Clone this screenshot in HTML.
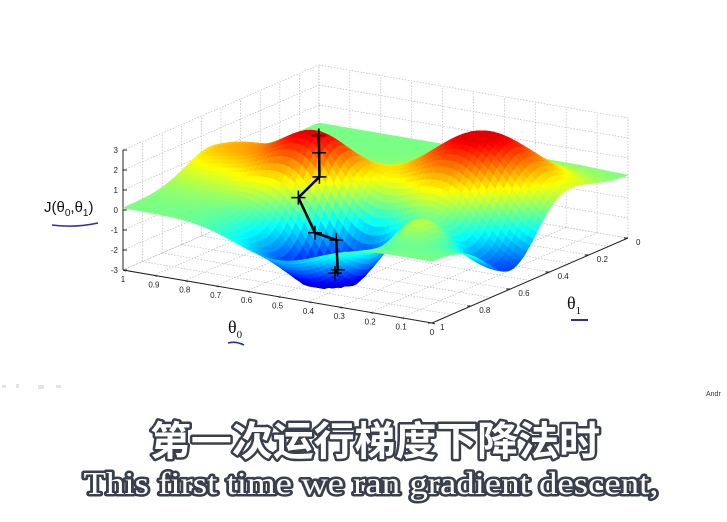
<!DOCTYPE html>
<html><head><meta charset="utf-8">
<style>
html,body{margin:0;padding:0;background:#fff;}
svg{display:block;}
.sub{paint-order:stroke;stroke:#3a3f4e;stroke-width:5px;stroke-linejoin:round;fill:#fff;}
</style></head>
<body>
<svg id="chart" width="727" height="522" viewBox="0 0 727 522" xmlns="http://www.w3.org/2000/svg">
  <g id="grid"></g>
  <g id="surface"></g>
  <g id="path"></g>
  <g id="ticks" font-family="Liberation Sans, sans-serif" font-size="8" fill="#222"></g>
  <text x="44" y="212" font-family="Liberation Sans, sans-serif" font-size="15" fill="#111">J(θ<tspan font-size="10" dy="4">0</tspan><tspan dy="-4">,θ</tspan><tspan font-size="10" dy="4">1</tspan><tspan dy="-4">)</tspan></text>
  <path d="M52 225 Q75 228 98 223" stroke="#2230b0" stroke-width="1.6" fill="none"/>
  <text x="228" y="333" font-family="Liberation Serif, serif" font-size="18" fill="#111">θ<tspan font-size="11" dy="5">0</tspan></text>
  <path d="M228 343 Q236 341 244 345" stroke="#2230b0" stroke-width="1.6" fill="none"/>
  <text x="567" y="309" font-family="Liberation Serif, serif" font-size="18" fill="#111">θ<tspan font-size="11" dy="5">1</tspan></text>
  <path d="M571 320 L588 320" stroke="#2230b0" stroke-width="2" fill="none"/>
  <text x="706" y="396" font-family="Liberation Sans, sans-serif" font-size="7" fill="#333">Andr</text>
  <g fill="#e4e4e4"><rect x="2" y="385" width="4" height="3"/><rect x="16" y="384" width="3" height="4"/><rect x="38" y="385" width="6" height="4"/><rect x="56" y="385" width="5" height="3"/></g>
  <text class="sub" x="375" y="455" text-anchor="middle" font-family="Liberation Sans, 'Noto Sans CJK SC', sans-serif" font-size="40" font-weight="bold" textLength="450" lengthAdjust="spacingAndGlyphs">第一次运行梯度下降法时</text>
  <text class="sub" x="371" y="494" text-anchor="middle" font-family="Liberation Serif, serif" font-size="32" textLength="575" lengthAdjust="spacingAndGlyphs">This first time we ran gradient descent,</text>
</svg>
<script>
// surface bumps (theta0, theta1, height, width)
const bumpT0 = [0.64, 0.23, 0.45, 0.03, 0.92, 0.55, 0.20];
const bumpT1 = [0.59, 0.38, 0.78, 0.58, 0.55, 0.95, 0.75];
const bumpH  = [3.0, 3.3, -3.6, -2.6, 1.4, -0.8, 1.2];
const bumpW  = [0.11, 0.15, 0.12, 0.13, 0.13, 0.12, 0.07];
const baseZ = 0.1;
// descent path points
const pathT0 = [0.62, 0.60, 0.58, 0.61, 0.55, 0.50, 0.47, 0.46];
const pathT1 = [0.60, 0.63, 0.66, 0.72, 0.73, 0.70, 0.74, 0.77];
const zTicks = [-3,-2,-1,0,1,2,3];
const t0Ticks = ["0","0.1","0.2","0.3","0.4","0.5","0.6","0.7","0.8","0.9","1"];
const t1Ticks = ["0","0.2","0.4","0.6","0.8","1"];

const NS="http://www.w3.org/2000/svg";
function P(a,t1,z){const b=1-t1;return [432-309*a+196*b, 323-53*a-85*b-20*(z+3)];}
function J(a,t){let z=baseZ;for(let i=0;i<bumpH.length;i++){const d=((a-bumpT0[i])**2+(t-bumpT1[i])**2)/(2*bumpW[i]*bumpW[i]);z+=bumpH[i]*Math.exp(-d);}return Math.max(-3,Math.min(3.2,z));}
function jet(v){v=0.06+0.84*Math.max(0,Math.min(1,v));const r=Math.max(0,Math.min(1,1.5-Math.abs(4*v-3))),g=Math.max(0,Math.min(1,1.5-Math.abs(4*v-2))),b=Math.max(0,Math.min(1,1.5-Math.abs(4*v-1)));return `rgb(${r*255|0},${g*255|0},${b*255|0})`;}
function line(g,p,q,name,dash){const l=document.createElementNS(NS,'line');l.setAttribute('x1',p[0]);l.setAttribute('y1',p[1]);l.setAttribute('x2',q[0]);l.setAttribute('y2',q[1]);l.setAttribute('stroke',dash?'#bbb':'#222');l.setAttribute('stroke-width',dash?0.7:1);if(dash)l.setAttribute('stroke-dasharray','1.5,1.5');


g.appendChild(l);}
const grid=document.getElementById('grid');
for(let i=0;i<=10;i++){const v=i/10;
 line(grid,P(v,0,-3),P(v,1,-3),'floor-gridline',true);
 line(grid,P(0,v,-3),P(1,v,-3),'floor-gridline',true);
 line(grid,P(v,0,-3),P(v,0,3),'wall-gridline',true);
 line(grid,P(1,v,-3),P(1,v,3),'wall-gridline',true);}
zTicks.forEach(z=>{line(grid,P(1,1,z),P(1,0,z),'wall-gridline',true);line(grid,P(1,0,z),P(0,0,z),'wall-gridline',true);});
line(grid,P(1,1,-3),P(1,1,3),'z-axis-line',false);
line(grid,P(1,1,-3),P(0,1,-3),'x-axis-line',false);
line(grid,P(0,1,-3),P(0,0,-3),'y-axis-line',false);
const tk=document.getElementById('ticks');
function txt(x,y,s,name,anchor){const t=document.createElementNS(NS,'text');t.setAttribute('x',x);t.setAttribute('y',y);t.textContent=s;if(anchor)t.setAttribute('text-anchor',anchor);


tk.appendChild(t);}
zTicks.forEach(z=>{const p=P(1,1,z);line(grid,p,[p[0]+4,p[1]],'z-tick',false);txt(p[0]-5,p[1]+3,String(z),'z-tick-label','end');});
t0Ticks.forEach((s,i)=>{const v=i/10;const p=P(v,1,-3);line(grid,p,[p[0]+3,p[1]+1],'x-tick',false);txt(p[0]+0,p[1]+12,s,'x-tick-label','middle');});
t1Ticks.forEach((s,i)=>{const v=i/5;const p=P(0,v,-3);line(grid,p,[p[0]-4,p[1]],'y-tick',false);txt(p[0]+8,p[1]+7,s,'y-tick-label','start');});
// surface
const surf=document.getElementById('surface');const N=60;const quads=[];
for(let i=0;i<N;i++)for(let j=0;j<N;j++){const a0=i/N,a1=(i+1)/N,t0=j/N,t1=(j+1)/N;
 const z00=J(a0,t0),z10=J(a1,t0),z11=J(a1,t1),z01=J(a0,t1);const zm=(z00+z10+z11+z01)/4;
 const am=(a0+a1)/2,bm=1-(t0+t1)/2;
 quads.push({d:53*am+85*bm,pts:[P(a0,t0,z00),P(a1,t0,z10),P(a1,t1,z11),P(a0,t1,z01)],c:jet((zm+3)/6)});}
quads.sort((x,y)=>y.d-x.d);
quads.forEach(q=>{const p=document.createElementNS(NS,'polygon');p.setAttribute('points',q.pts.map(v=>v[0].toFixed(1)+','+v[1].toFixed(1)).join(' '));p.setAttribute('fill',q.c);p.setAttribute('stroke',q.c);p.setAttribute('stroke-width','0.6');


surf.appendChild(p);});
// path
const pg=document.getElementById('path');const pts=pathT0.map((a,i)=>P(a,pathT1[i],J(a,pathT1[i])+0.3));
const pl=document.createElementNS(NS,'polyline');pl.setAttribute('points',pts.map(v=>v.join(',')).join(' '));pl.setAttribute('fill','none');pl.setAttribute('stroke','#000');pl.setAttribute('stroke-width','2.5');


pg.appendChild(pl);
pts.forEach(v=>{const m=document.createElementNS(NS,'path');m.setAttribute('d',`M${v[0]-7} ${v[1]}L${v[0]+7} ${v[1]}M${v[0]} ${v[1]-7}L${v[0]} ${v[1]+7}`);m.setAttribute('stroke','#000');m.setAttribute('stroke-width','1.5');


pg.appendChild(m);});
</script>
</body></html>
